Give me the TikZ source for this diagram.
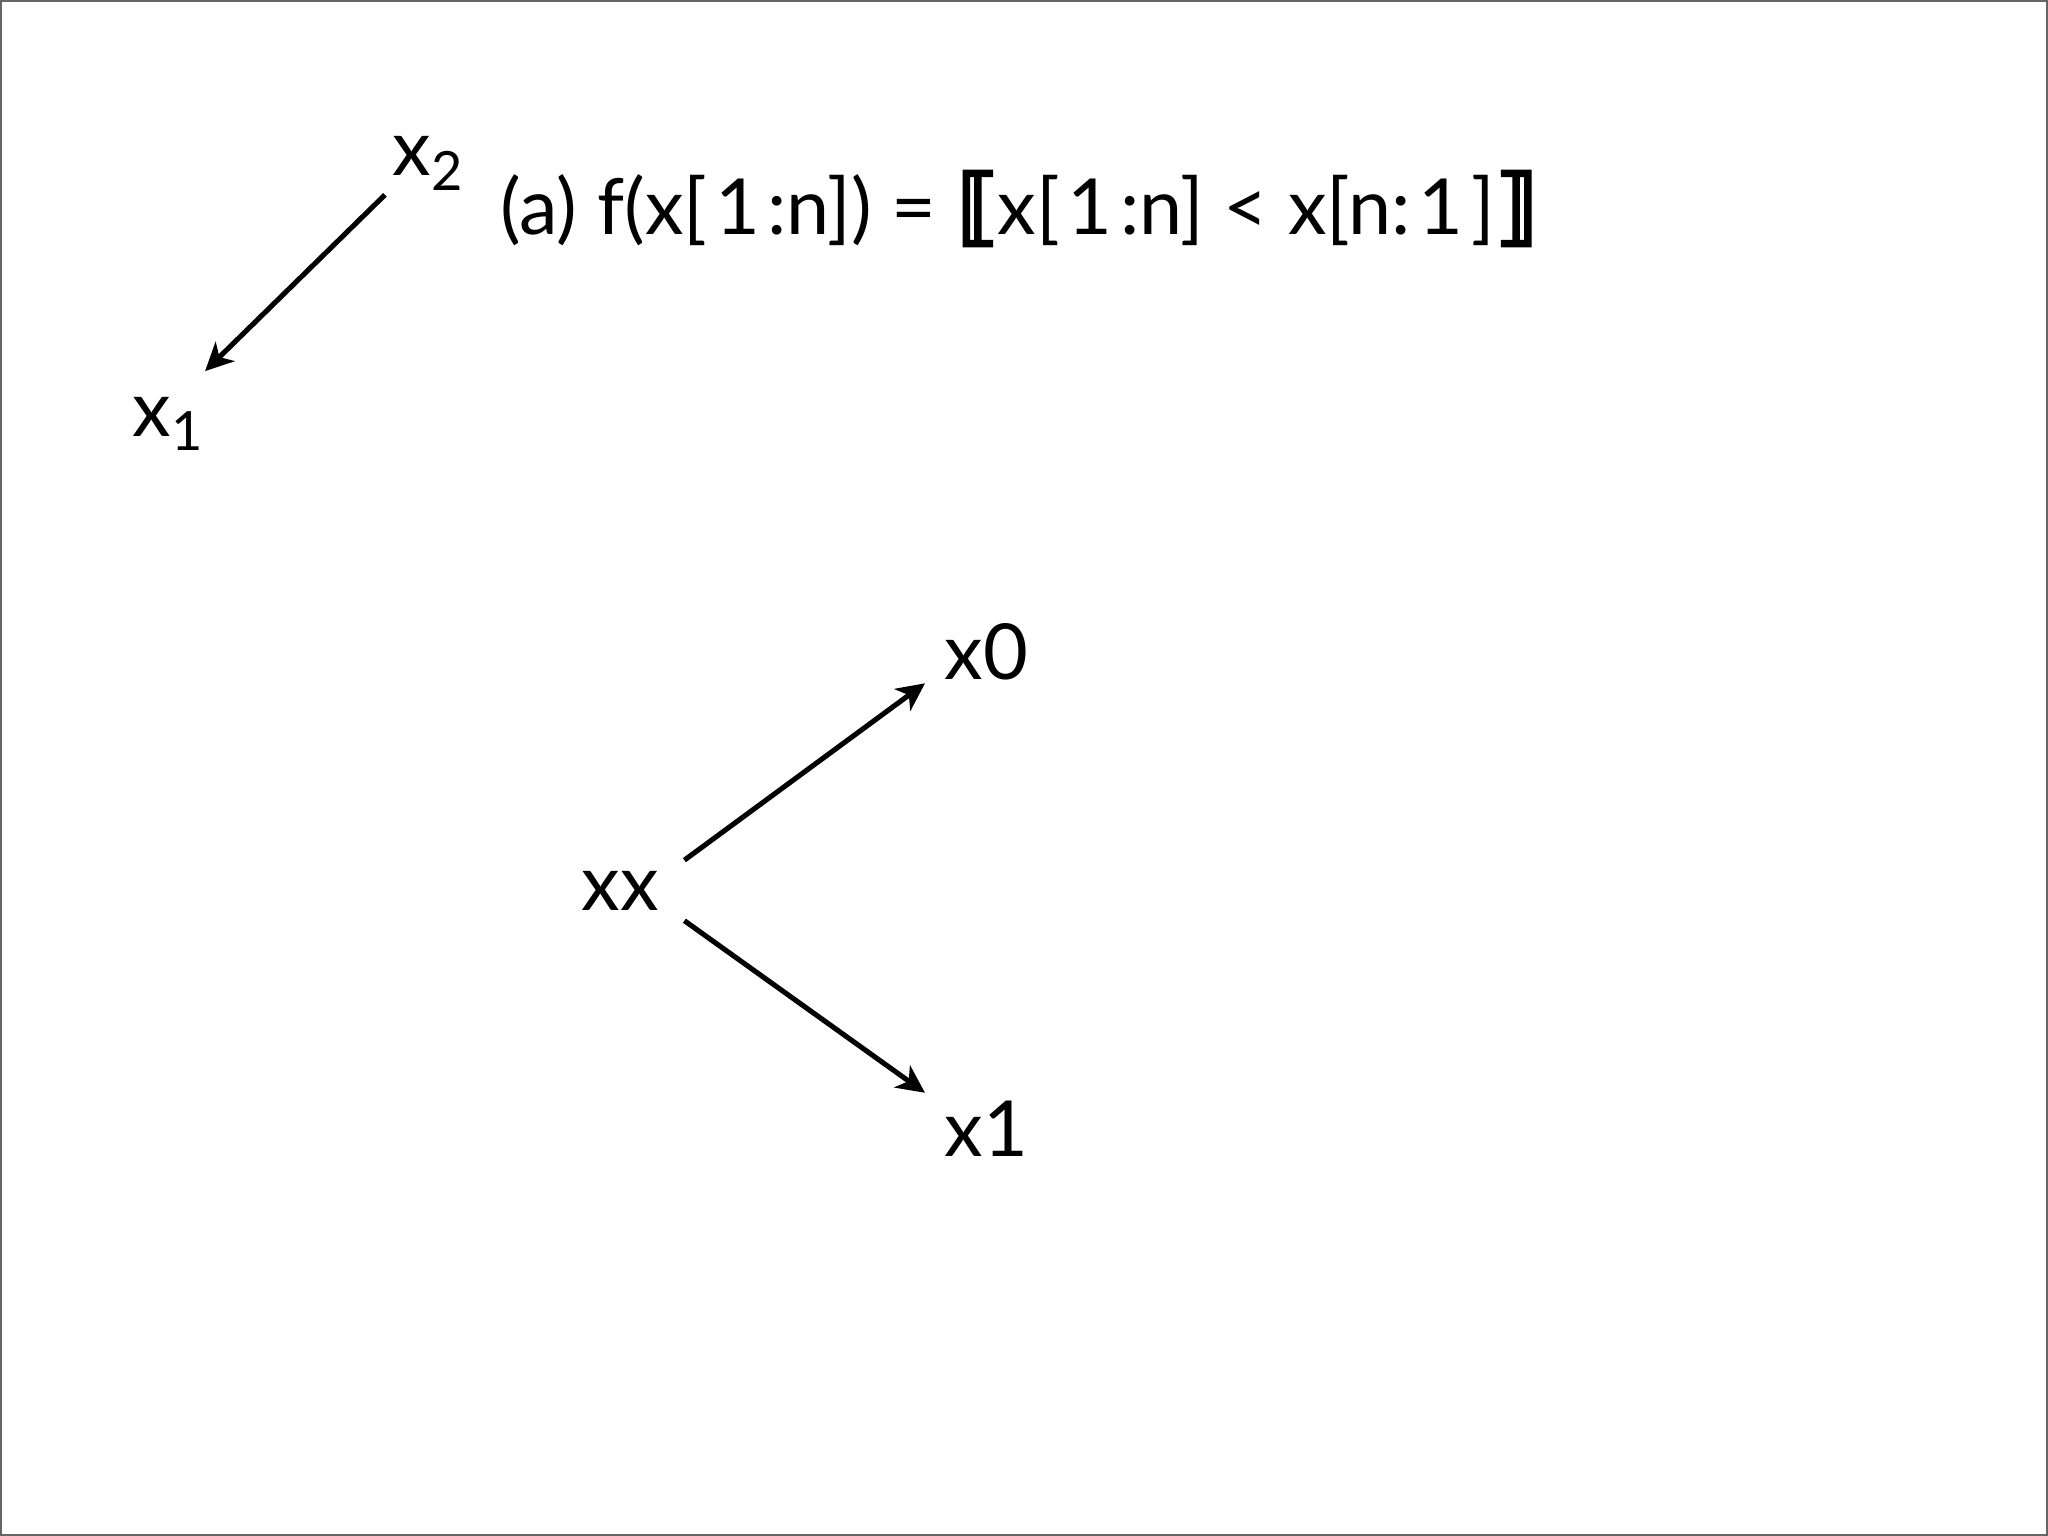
\documentclass[tikz,border=0pt]{standalone}
\usepackage{fontspec}
\setmainfont{Lato}
\newfontfamily\bracketfont[FakeBold=3]{DejaVu Sans}
\usetikzlibrary{arrows.meta}
\newcommand{\one}{\kern2.2pt1\kern2.2pt}

\begin{document}
\begin{tikzpicture}[y=-1cm,
  lbl/.style={font=\fontsize{22}{26}\selectfont, anchor=base west, inner sep=0pt},
  link/.style={line width=1.45pt, -{Stealth[length=0.28cm,width=0.27cm,inset=0.08cm]}}]

\useasboundingbox (0,0) rectangle (20.48,15.36);
\draw[black!60, line width=0.5pt] (0.01,0.01) rectangle (20.47,15.35);

% first graph:
\node[lbl, inner xsep=0.07cm, inner ysep=0.04cm] (xtwo) at (3.85,1.76) {x\textsubscript{2}};
\node[lbl, inner xsep=0cm, inner ysep=0.26cm] (xone) at (1.32,4.37) {x\textsubscript{1}};
\node[lbl] (eqn) at (5.00,2.35) {(a) f(x[\one:n]) = {\bracketfont\bfseries\fontsize{24}{26}\selectfont ⟦}x[\one:n] < x[n:\one]{\bracketfont\bfseries\fontsize{24}{26}\selectfont ⟧}};
\draw[link] (xtwo.south west) -- (xone.north east);

% second graph:
\node[lbl, inner xsep=0.25cm, inner ysep=0.1cm] (xx) at (5.56,9.10) {xx};
\node[lbl, inner xsep=0.19cm, inner ysep=0.03cm] (xzero) at (9.25,6.79) {x0};
\node[lbl, inner xsep=0.19cm, inner ysep=0.07cm] (xbit) at (9.25,11.56) {x1};
\draw[link] (xx.north east) -- (xzero.south west);
\draw[link] (xx.south east) -- (xbit.north west);

\end{tikzpicture}
\end{document}
